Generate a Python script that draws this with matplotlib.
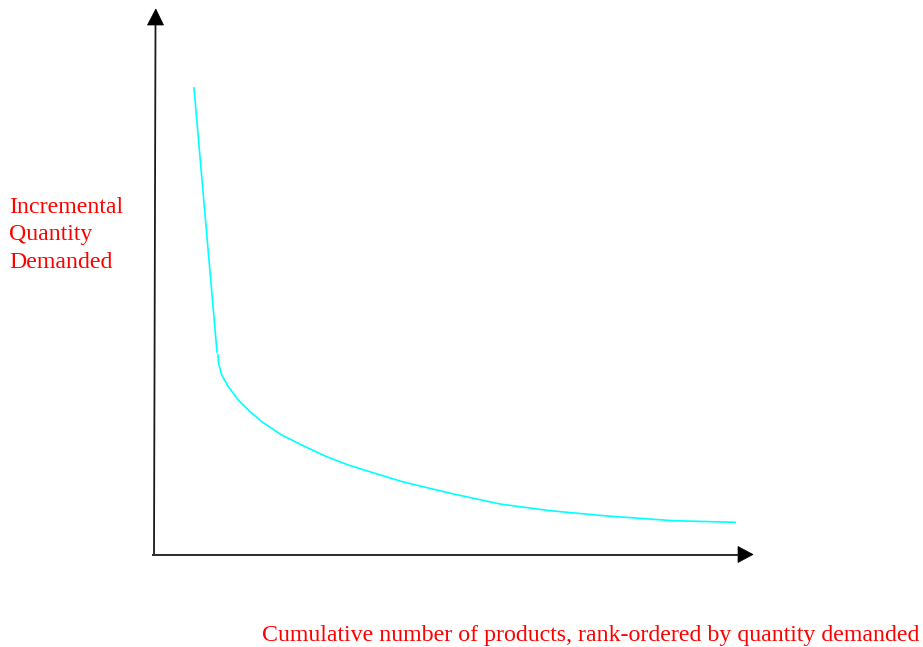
import matplotlib
matplotlib.use("Agg")
import matplotlib.pyplot as plt
from matplotlib.patches import Polygon

# Data (in chart units: origin at the axes corner)
steep_x = [40, 63]
steep_y = [466, 202]
tail_x = [64, 64.5, 67.7, 74.3, 84.3, 94.3, 107.7, 127.7, 147.7, 171, 194.3, 221,
          247.7, 274.3, 301, 346, 396, 453, 519, 581]
tail_y = [199, 191, 179, 167.3, 154, 144, 132.3, 119, 109, 98, 89, 80.7,
          72.5, 66, 59.7, 50, 43.3, 38, 33.3, 31.7]

y_label_lines = ["Incremental", "Quantity", "Demanded"]
x_label = "Cumulative number of products, rank-ordered by quantity demanded"

W, H = 923, 647
fig = plt.figure(figsize=(W / 100, H / 100), dpi=100)
ax = fig.add_axes([0, 0, 1, 1])
ax.set_xlim(-154, W - 154)
ax.set_ylim(-(H - 554), 554)
ax.axis("off")

axis_color = "#1a1a1a"
# y axis with arrow
ax.plot([0, 1.5], [0, 529], color=axis_color, lw=1.3, solid_capstyle="butt")
ax.add_patch(Polygon([[-6.5, 529], [9.5, 529], [1.8, 545]], closed=True,
                     facecolor="black", edgecolor="black", lw=0.5))
# x axis with arrow
ax.plot([-2, 585], [-0.5, -0.5], color=axis_color, lw=1.3, solid_capstyle="butt")
ax.add_patch(Polygon([[584, 7.5], [584, -8.5], [599, -0.5]], closed=True,
                     facecolor="black", edgecolor="black", lw=0.5))

# curve
ax.plot(steep_x, steep_y, color="#00FFFF", lw=1.2)
ax.plot(tail_x, tail_y, color="#00FFFF", lw=1.2, solid_joinstyle="round")

font = dict(family=["Liberation Serif", "DejaVu Serif"], color="red", fontsize=17.2)
for i, line in enumerate(y_label_lines):
    fig.text(9 / W, 1 - (213 + 27.5 * i) / H, line, ha="left", va="baseline", **font)
fig.text(262 / W, 1 - 641 / H, x_label, ha="left", va="baseline", **font)

fig.savefig("out.png", dpi=100)
